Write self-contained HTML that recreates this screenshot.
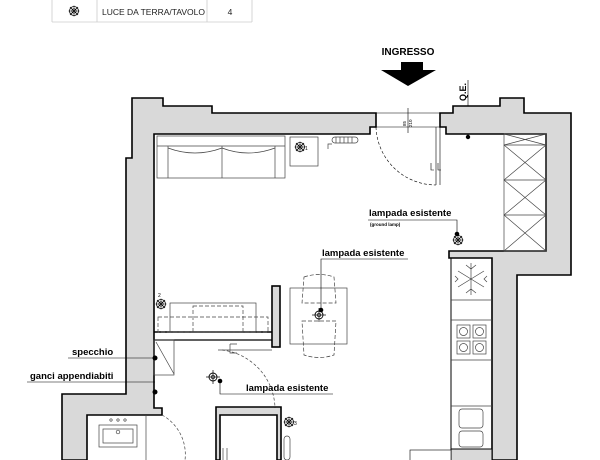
<!DOCTYPE html>
<html><head><meta charset="utf-8"><style>
html,body{margin:0;padding:0;background:#fff;}
svg{display:block;font-family:"Liberation Sans",sans-serif;}
</style></head><body>
<svg width="600" height="460" viewBox="0 0 600 460" xmlns="http://www.w3.org/2000/svg">
<defs>
<g id="lamp"><circle r="4.5" fill="none" stroke="#000" stroke-width="0.8"/><circle r="2.2" fill="none" stroke="#000" stroke-width="0.6"/><line x1="-4" y1="-4" x2="4" y2="4" stroke="#000" stroke-width="0.8"/><line x1="-4" y1="4" x2="4" y2="-4" stroke="#000" stroke-width="0.8"/><line x1="-5.5" y1="0" x2="5.5" y2="0" stroke="#000" stroke-width="0.5"/><line x1="0" y1="-5.5" x2="0" y2="5.5" stroke="#000" stroke-width="0.5"/></g>
<g id="ceil"><circle r="4" fill="none" stroke="#000" stroke-width="0.9"/><circle r="1.8" fill="none" stroke="#000" stroke-width="0.7"/><line x1="-7" y1="0" x2="7" y2="0" stroke="#000" stroke-width="0.7"/><line x1="0" y1="-7" x2="0" y2="7" stroke="#000" stroke-width="0.7"/></g>
</defs>
<g stroke="#ccc" stroke-width="0.8" fill="none"><line x1="52" y1="22" x2="252" y2="22"/><line x1="52" y1="0" x2="52" y2="22"/><line x1="97" y1="0" x2="97" y2="22"/><line x1="207" y1="0" x2="207" y2="22"/><line x1="252" y1="0" x2="252" y2="22"/></g>
<use href="#lamp" x="74" y="11"/>
<text x="102" y="15" font-size="8.5" fill="#222">LUCE DA TERRA/TAVOLO</text>
<text x="230" y="15" font-size="8.5" fill="#222" text-anchor="middle">4</text>
<text x="408" y="55" font-size="10" font-weight="bold" text-anchor="middle">INGRESSO</text>
<polygon points="401,62 423,62 423,70 436,70 408,86 381,70 401,70" fill="#000"/>
<text transform="translate(466,101) rotate(-90)" font-size="9" font-weight="bold">Q.E.</text>
<line x1="468" y1="80" x2="468" y2="137" stroke="#000" stroke-width="0.6"/>
<circle cx="468" cy="137" r="2.2" fill="#000"/>
<g fill="#d9d9d9" stroke="#000" stroke-width="1.6" stroke-linejoin="miter">
<polygon points="132,98 163,98 163,106 212,106 212,113 376,113 376,127 370,127 370,134 154,134 154,408 162,408 162,415 87,415 87,460 62,460 62,394 126,394 126,158 132,158"/>
<polygon points="440,113 453,113 453,106 500,106 500,98 524,98 524,113 571,113 571,275 517,275 517,460 492,460 492,258 449,258 449,251 546,251 546,134 446,134 446,127 440,127"/>
<polygon points="216,460 216,407 281,407 281,460 277,460 277,415 220,415 220,460"/>
<rect x="272" y="286" width="8" height="61"/>
</g>
<rect x="451" y="449" width="41" height="12" fill="#d9d9d9" stroke="#000" stroke-width="1"/>
<rect x="410" y="450" width="41" height="12" fill="#fff" stroke="#000" stroke-width="0.6"/>
<g stroke="#000" stroke-width="0.6" fill="none">
<line x1="376" y1="113" x2="440" y2="113"/><line x1="376" y1="127" x2="440" y2="127"/>
<line x1="408" y1="108" x2="408" y2="133"/>
<line x1="436" y1="127" x2="436" y2="185"/><line x1="440" y1="127" x2="440" y2="185"/>
<path d="M376,127 A60,60 0 0 0 436,185" stroke-dasharray="3,2"/>
<path d="M431,163 v7 h3 M438,163 v7 h3"/>
</g>
<text transform="translate(406,126) rotate(-90)" font-size="4.5">85</text>
<text transform="translate(412,127) rotate(-90)" font-size="4.5">210</text>
<g stroke="#000" fill="none">
<line x1="154" y1="332" x2="272" y2="332" stroke-width="1.6"/>
<line x1="154" y1="340" x2="272" y2="340" stroke-width="1.2"/>
</g>
<g stroke="#444" stroke-width="0.7" fill="none">
<rect x="157" y="136" width="128" height="42"/>
<line x1="157" y1="146" x2="285" y2="146"/>
<line x1="168" y1="146" x2="168" y2="178"/><line x1="275" y1="146" x2="275" y2="178"/>
<line x1="222" y1="146" x2="222" y2="178"/>
<path d="M168,148 Q195,158 222,148 Q248,158 275,148"/>
<rect x="290" y="137" width="28" height="29"/>
<path d="M328,149 v-5 h4"/>
<rect x="332" y="137" width="26" height="6" rx="3"/>
<path d="M336,137 v6 M340,137 v6 M344,137 v6 M348,137 v6 M352,137 v6"/>
<rect x="170" y="303" width="86" height="29"/>
<rect x="158" y="317" width="110" height="15" stroke-dasharray="4,2"/>
<rect x="193" y="306" width="50" height="26" stroke-dasharray="4,2"/>
<rect x="290" y="288" width="57" height="56"/>
<path d="M304,277 Q319,272 334,277 L336,303 L302,303 Z" stroke-dasharray="4,2"/>
<path d="M302,321 L336,321 L334,355 Q319,360 304,355 Z" stroke-dasharray="4,2"/>
<rect x="504" y="134" width="42" height="117"/>
<path d="M504,145 h42 M504,180 h42 M504,215 h42"/>
<path d="M504,134 L546,145 M546,134 L504,145 M504,145 L546,180 M546,145 L504,180 M504,180 L546,215 M546,180 L504,215 M504,215 L546,251 M546,215 L504,251"/>
<rect x="451" y="258" width="41" height="191" stroke="#000" stroke-width="1"/>
<path d="M451,300 h41 M451,320 h41 M451,360 h41 M451,406 h41"/>
<path d="M471,263 v32 M458,271 l26,16 M458,287 l26,-16 M466,265 l5,4 5,-4 M466,293 l5,-4 5,4 M455,276 l3,3 -3,3 M487,276 l-3,3 3,3"/>
<rect x="457" y="325" width="13" height="13"/><rect x="473" y="325" width="13" height="13"/>
<rect x="457" y="341" width="13" height="13"/><rect x="473" y="341" width="13" height="13"/>
<circle cx="463.5" cy="331.5" r="4"/><circle cx="479.5" cy="331.5" r="4"/><circle cx="463.5" cy="347.5" r="4"/><circle cx="479.5" cy="347.5" r="4"/>
<rect x="459" y="409" width="24" height="19" rx="3"/><rect x="459" y="431" width="24" height="16" rx="3"/>
<rect x="154" y="340" width="20" height="35"/>
<line x1="156" y1="342" x2="174" y2="374"/>
<path d="M218,350 h54" />
<path d="M230,344 v9 h7 M230,344 h7"/>
<path d="M222,350 A60,60 0 0 1 275,408" stroke-dasharray="3,2"/>
<path d="M162,415 A45,45 0 0 1 185,460" stroke-dasharray="3,2"/>
<line x1="146" y1="415" x2="146" y2="460"/>
<rect x="99" y="425" width="38" height="22"/>
<rect x="103" y="429" width="30" height="14"/>
<circle cx="118" cy="432" r="1.8"/>
<circle cx="111" cy="420" r="1.2"/><circle cx="118" cy="420" r="1.2"/><circle cx="125" cy="420" r="1.2"/>
<rect x="284" y="436" width="6" height="24" rx="3"/>
<path d="M223,448 v12 M227,448 v12"/>
</g>
<use href="#lamp" x="300" y="147"/><text x="305" y="150" font-size="5">1</text>
<use href="#lamp" x="161" y="304"/><text x="158" y="297" font-size="5">2</text>
<use href="#lamp" x="289" y="422"/><text x="294" y="425" font-size="5">3</text>
<use href="#lamp" x="458" y="240"/>
<circle cx="457" cy="234" r="2.3" fill="#000"/>
<use href="#ceil" x="319" y="315"/>
<circle cx="321" cy="310" r="2.3" fill="#000"/>
<use href="#ceil" x="213" y="377"/>
<circle cx="220" cy="381" r="2.3" fill="#000"/>
<circle cx="155" cy="358" r="2.5" fill="#000"/>
<circle cx="155" cy="392" r="2.5" fill="#000"/>
<g stroke="#000" stroke-width="0.6" fill="none">
<path d="M457,234 V220 H368"/>
<path d="M321,310 V259 H408"/>
<path d="M220,381 V394 H333"/>
<path d="M68,358 H155"/>
<path d="M27,382 H155"/>
</g>
<g font-size="9.5" font-weight="bold" fill="#000">
<text x="369" y="216">lampada esistente</text>
<text x="322" y="256">lampada esistente</text>
<text x="246" y="391">lampada esistente</text>
<text x="72" y="355">specchio</text>
<text x="30" y="379">ganci appendiabiti</text>
</g>
<text x="370" y="226" font-size="4.5" font-weight="bold">(ground lamp)</text>
</svg>
</body></html>
